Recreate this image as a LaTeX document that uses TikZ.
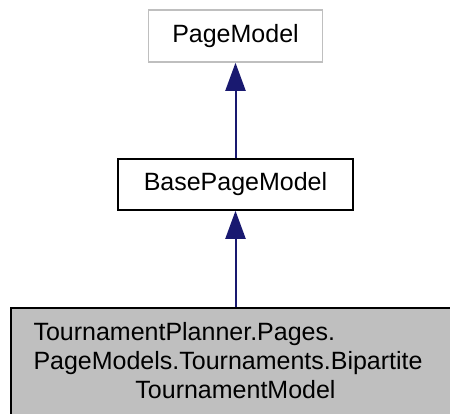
\documentclass[tikz,border=0pt]{standalone}
\usepackage{fontspec}
\setmainfont{Liberation Sans}
\usetikzlibrary{arrows.meta}
\definecolor{edgeblue}{HTML}{191970}
\definecolor{lightframe}{HTML}{BFBFBF}
\definecolor{selfill}{HTML}{BFBFBF}
\tikzset{
  classbox/.style={draw=black, line width=1.5pt, rectangle, inner sep=0pt,
    font=\fontsize{25}{29}\selectfont},
  inherit/.style={draw=edgeblue, line width=2pt,
    -{Triangle[width=20pt,length=28pt]}, color=edgeblue}
}
\begin{document}
\begin{tikzpicture}[x=1pt,y=1pt]
  \useasboundingbox (0,0) rectangle (450,-413);
  \node[classbox, draw=lightframe, minimum width=174pt, minimum height=52pt]
    (pm) at (235.5,-36) {PageModel};
  \node[classbox, minimum width=235pt, minimum height=51pt]
    (bpm) at (235.5,-184.5) {BasePageModel};
  \node[classbox, fill=selfill, minimum width=449pt, minimum height=110pt,
        text width=404pt, align=left]
    (tm) at (235.5,-363)
    {TournamentPlanner.Pages.\\
     PageModels.Tournaments.Bipartite\\
     \hbox to 404pt{\hfil TournamentModel\rule[-6pt]{0pt}{6pt}\hfil}};
  \draw[inherit] (tm.north) -- (bpm.south);
  \draw[inherit] (bpm.north) -- (pm.south);
\end{tikzpicture}
\end{document}
